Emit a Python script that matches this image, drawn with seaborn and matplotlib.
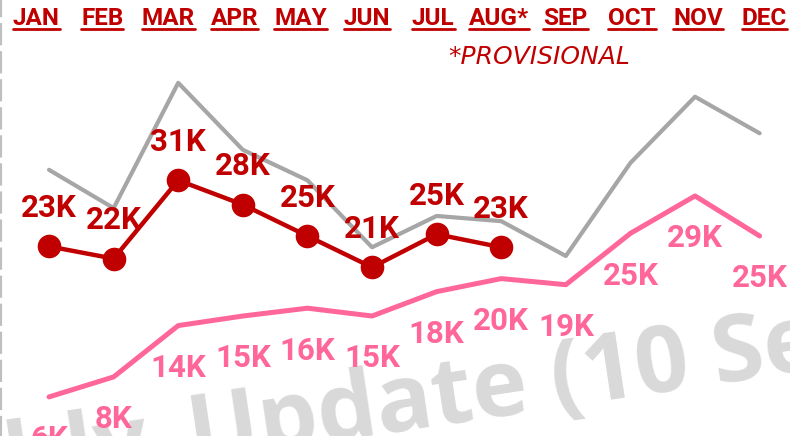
import numpy as np
import matplotlib
matplotlib.use("Agg")
import matplotlib.pyplot as plt
from matplotlib.lines import Line2D
from matplotlib.transforms import IdentityTransform
import seaborn as sns

# month axis
months = ["JAN", "FEB", "MAR", "APR", "MAY", "JUN", "JUL", "AUG*", "SEP", "OCT", "NOV", "DEC"]

# values in thousands
current = [23.4, 22.0, 31.0, 28.2, 24.6, 21.0, 24.8, 23.3]
previous = [32.2, 27.8, 42.2, 34.5, 31.0, 23.3, 26.9, 26.3, 22.3, 33.0, 40.6, 36.4]
lower = [6.1, 8.4, 14.3, 15.4, 16.3, 15.4, 18.2, 19.7, 19.0, 24.9, 29.2, 24.6]

RED = "#C00000"
GREY = "#A6A6A6"
PINK = "#FF6699"

sns.set_style("white")
plt.rcParams["font.family"] = ["Roboto", "DejaVu Sans"]
plt.rcParams["lines.scale_dashes"] = False

fig = plt.figure(figsize=(7.9, 4.36), dpi=100)
ax = fig.add_axes([0, 0, 1, 1])

idx = np.arange(len(months))
sns.lineplot(x=idx, y=previous, color=GREY, linewidth=3.0, ax=ax, zorder=3)
sns.lineplot(x=idx, y=lower, color=PINK, linewidth=3.6, ax=ax, zorder=3)
sns.lineplot(x=idx[:len(current)], y=current, color=RED, linewidth=3.2,
             marker="o", markersize=17, markeredgewidth=0, ax=ax, zorder=4)

# data labels
for i, v in enumerate(current):
    ax.annotate(f"{v:.0f}K", (i, v), xytext=(0, 21), textcoords="offset points",
                ha="center", va="baseline", color=RED, fontsize=22.5, fontweight="bold", zorder=5)
for i, v in enumerate(lower):
    ax.annotate(f"{v:.0f}K", (i, v), xytext=(0, -37), textcoords="offset points",
                ha="center", va="baseline", color=PINK, fontsize=22.5, fontweight="bold", zorder=5)

ax.set_xlim(-0.759, 11.47)
ax.set_ylim(1.61, 51.72)
ax.set(xticks=[], yticks=[], xlabel="", ylabel="")
for side in ["top", "right", "bottom"]:
    ax.spines[side].set_visible(False)
ax.spines["left"].set_color("#BFBFBF")
ax.spines["left"].set_linewidth(3)
ax.spines["left"].set_linestyle((0, (13, 7.2)))

# watermark
wm = dict(fontsize=67.5, fontweight="bold", color="#D9D9D9", rotation=8.5,
          rotation_mode="anchor", va="baseline", family="Open Sans",
          transform=ax.transAxes, zorder=0)
ax.text(193 / 790, -26 / 436, "Update (10 Sep)", ha="left", **wm)
ax.text(152 / 790, -32 / 436, "Monthly", ha="right", **wm)

ax.text(539 / 790, 1 - 64 / 436, "*PROVISIONAL", transform=ax.transAxes,
        ha="center", va="baseline", color=RED, fontsize=18, style="italic",
        family="DejaVu Sans")

# month labels along the top
top = ax.twiny()
top.set_xlim(-0.544, 11.39)
top.set_xticks(idx, months)
top.tick_params(axis="x", length=0, pad=-21.5, labelsize=17.5, labelcolor=RED)
for lab in top.get_xticklabels():
    lab.set_fontweight("bold")
for s in top.spines.values():
    s.set_visible(False)

fig.canvas.draw()
r = fig.canvas.get_renderer()
H = fig.bbox.height
for lab in top.get_xticklabels():
    bb = lab.get_window_extent(r)
    fig.add_artist(Line2D([bb.x0, bb.x1], [H - 29.5] * 2, transform=IdentityTransform(),
                          color=RED, linewidth=2.0))

fig.savefig("out.png", dpi=100)
